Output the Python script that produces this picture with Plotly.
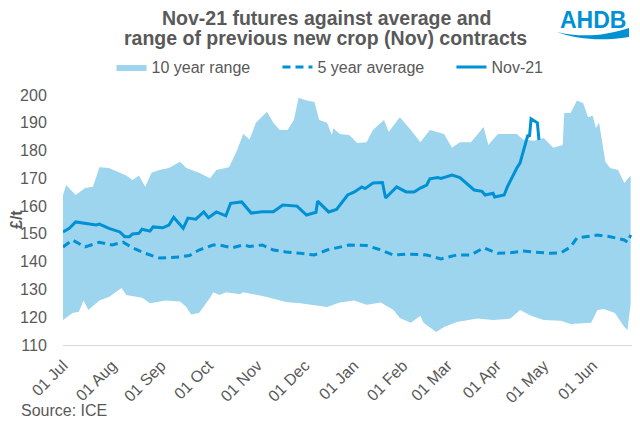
import plotly.graph_objects as go

# ---- data ----
range_upper_dates = [
    "2020-07-01", "2020-07-03", "2020-07-09", "2020-07-15", "2020-07-20", "2020-07-24", "2020-07-30",
    "2020-08-10", "2020-08-14", "2020-08-18", "2020-08-22", "2020-08-26", "2020-08-31",
    "2020-09-06", "2020-09-13", "2020-09-17", "2020-09-25",
    "2020-10-02", "2020-10-06", "2020-10-14", "2020-10-19", "2020-10-23", "2020-10-27", "2020-10-31",
    "2020-11-07", "2020-11-11", "2020-11-15", "2020-11-20", "2020-11-24", "2020-11-27",
    "2020-12-02", "2020-12-07", "2020-12-10", "2020-12-15", "2020-12-18", "2020-12-19", "2020-12-23", "2020-12-29",
    "2021-01-03", "2021-01-09", "2021-01-13", "2021-01-20", "2021-01-23", "2021-01-30",
    "2021-02-06", "2021-02-12", "2021-02-18", "2021-02-27",
    "2021-03-04", "2021-03-09", "2021-03-16", "2021-03-24", "2021-03-27",
    "2021-04-02", "2021-04-10", "2021-04-14", "2021-04-18", "2021-04-25",
    "2021-05-01", "2021-05-07", "2021-05-13", "2021-05-14", "2021-05-18", "2021-05-22", "2021-05-26", "2021-05-29",
    "2021-06-01", "2021-06-03", "2021-06-05", "2021-06-09", "2021-06-12", "2021-06-17", "2021-06-21", "2021-06-25",
]
range_upper = [
    164, 167.6, 164, 166.5, 167, 174, 173.7,
    171, 169.4, 171, 167, 172, 173,
    173.7, 176, 173.7, 172,
    170, 173, 174, 180, 186, 184, 190,
    194, 190, 187.4, 187.4, 191, 199,
    198, 197.5, 191, 190, 185.6, 188, 186, 185.6,
    182.7, 183, 187.4, 191, 186.7, 192,
    187.4, 183, 187.4, 186,
    181, 183, 183, 188.5, 182,
    186, 186, 186, 184, 183.5,
    184.5, 181, 182, 193.5, 193.5, 198, 197, 192,
    192.5, 188, 190, 176, 173.7, 173, 168.3, 171,
]

range_lower_dates = [
    "2020-07-01", "2020-07-07", "2020-07-11", "2020-07-14", "2020-07-17", "2020-07-24", "2020-07-30",
    "2020-08-07", "2020-08-10", "2020-08-20", "2020-08-25",
    "2020-09-04", "2020-09-13", "2020-09-17", "2020-09-20", "2020-09-25",
    "2020-10-02", "2020-10-04", "2020-10-08", "2020-10-12", "2020-10-21", "2020-10-23",
    "2020-11-07", "2020-11-19", "2020-11-28",
    "2020-12-15", "2020-12-23",
    "2021-01-01", "2021-01-09", "2021-01-18", "2021-01-26", "2021-01-30",
    "2021-02-06", "2021-02-12", "2021-02-14", "2021-02-22", "2021-02-27",
    "2021-03-07", "2021-03-20", "2021-03-30",
    "2021-04-10", "2021-04-16", "2021-04-23",
    "2021-05-01", "2021-05-12", "2021-05-18", "2021-05-22", "2021-05-31",
    "2021-06-04", "2021-06-08", "2021-06-15", "2021-06-21", "2021-06-23", "2021-06-25",
]
range_lower = [
    119, 121.5, 122, 126, 122.6, 126, 127.3,
    130.5, 128, 127, 125,
    126, 125.7, 123.7, 121, 121.5,
    127, 129, 128, 129, 128.3, 129,
    127.3, 125.5, 125,
    123.7, 125.3,
    126, 124.5, 125.3, 122.6, 119.7,
    118, 120.5, 118, 114.7, 116.5,
    118.3, 119.5, 119,
    119.5, 122.6, 120.5,
    119, 118.7, 117.6, 117.6, 118,
    122.6, 123, 121.5, 116.5, 115.4, 125,
]

avg5_dates = [
    "2020-07-01", "2020-07-07", "2020-07-15", "2020-07-24",
    "2020-08-01", "2020-08-08", "2020-08-14", "2020-08-22", "2020-08-31",
    "2020-09-13", "2020-09-19", "2020-09-25",
    "2020-10-04", "2020-10-08", "2020-10-16", "2020-10-23", "2020-10-27",
    "2020-11-04", "2020-11-11", "2020-11-19", "2020-11-28",
    "2020-12-07", "2020-12-15", "2020-12-23", "2020-12-29",
    "2021-01-09", "2021-01-18", "2021-01-26",
    "2021-02-03", "2021-02-12", "2021-02-16", "2021-02-25",
    "2021-03-07", "2021-03-16", "2021-03-24",
    "2021-04-02", "2021-04-10", "2021-04-18", "2021-04-27",
    "2021-05-05", "2021-05-12", "2021-05-18", "2021-05-22", "2021-05-29",
    "2021-06-04", "2021-06-12", "2021-06-21", "2021-06-23", "2021-06-25",
]
avg5 = [
    145.3, 147.8, 145.3, 147,
    146, 147, 145, 143, 141.3,
    141.7, 142.2, 144.2,
    146, 146, 145, 146, 145.5,
    146, 144.2, 143.5, 143,
    142.4, 144.2, 145.3, 146,
    145.8, 144.2, 142.4,
    142.7, 142.6, 142.4, 141,
    142.4, 142.4, 145,
    143, 143.2, 143.8, 143.5,
    143, 143.2, 145.3, 148.5, 149,
    149.6, 149, 147.8, 147, 149.6,
]

nov21_dates = [
    "2020-07-01", "2020-07-05", "2020-07-09", "2020-07-15", "2020-07-22", "2020-07-24", "2020-07-30",
    "2020-08-06", "2020-08-09", "2020-08-12", "2020-08-14", "2020-08-18", "2020-08-20", "2020-08-25", "2020-08-27",
    "2020-09-02", "2020-09-06", "2020-09-09", "2020-09-15", "2020-09-18", "2020-09-23", "2020-09-28",
    "2020-10-01", "2020-10-06", "2020-10-08", "2020-10-12", "2020-10-15", "2020-10-22", "2020-10-28",
    "2020-11-04", "2020-11-11", "2020-11-17", "2020-11-26",
    "2020-12-02", "2020-12-08", "2020-12-09", "2020-12-16", "2020-12-21", "2020-12-28",
    "2021-01-01", "2021-01-06", "2021-01-08", "2021-01-13", "2021-01-19", "2021-01-21", "2021-01-28",
    "2021-02-03", "2021-02-08", "2021-02-12", "2021-02-16", "2021-02-18", "2021-02-23", "2021-02-25",
    "2021-03-04", "2021-03-09", "2021-03-12", "2021-03-18", "2021-03-23", "2021-03-25", "2021-03-30", "2021-03-31",
    "2021-04-06", "2021-04-08", "2021-04-14", "2021-04-16", "2021-04-21", "2021-04-22", "2021-04-23",
    "2021-04-27", "2021-04-28",
]
nov21 = [
    150.7, 152, 154.3, 153.9, 153.2, 153.5, 152,
    150.7, 149, 149, 150, 150.2, 151.7, 151, 152.5,
    152.2, 153.2, 156, 152, 155.7, 155.3, 157.9,
    155.8, 157.9, 157.5, 156.5, 161, 161.5, 157.5,
    158, 158, 160.4, 160,
    156.8, 157.8, 161.8, 157.9, 158.8, 164,
    165, 166.9, 166.3, 168.3, 168.5, 162.9, 166.9,
    165.1, 165.1, 166.5, 167.6, 169.8, 170.3, 170,
    171.2, 170.3, 168.9, 165.8, 165.3, 164, 164.6, 163.3,
    164, 166.9, 173.7, 175.5, 185.6, 185, 191.4,
    190, 183.8,
]

y_ticks = [110, 120, 130, 140, 150, 160, 170, 180, 190, 200]
series_names = ["10 year range", "5 year average", "Nov-21"]
title_lines = ["Nov-21 futures against average and",
               "range of previous new crop (Nov) contracts"]

BLUE = "#0091D5"
FILL = "#9DD4EE"
GREY = "#595959"
FONT = "Liberation Sans, Arial, sans-serif"

# The page body has an 8px default margin; lay out in page pixels and shift.
OFF = 8
W, H = 640, 427
L, R, T, B = 63 - OFF, 637 - OFF, 95 - OFF, 345 - OFF


def px(x):  # page x pixel -> paper x
    return (x - OFF - L) / (R - L)


def py(y):  # page y pixel -> paper y
    return (B - (y - OFF)) / (B - T)


def cy(y):  # page y pixel -> container y
    return 1 - (y - OFF) / H


def cx(x):  # page x pixel -> container x
    return (x - OFF) / W


GAP = "\u00a0" * 5

fig = go.Figure()
fig.add_trace(go.Scatter(
    x=range_upper_dates + range_lower_dates[::-1],
    y=range_upper + range_lower[::-1],
    fill="toself", fillcolor=FILL, mode="lines", line=dict(width=0, color=FILL),
    name=series_names[0] + GAP, hoverinfo="skip",
))
fig.add_trace(go.Scatter(
    x=avg5_dates, y=avg5, mode="lines",
    line=dict(color=BLUE, width=3, dash="8px,5px"), name=series_names[1] + GAP,
))
fig.add_trace(go.Scatter(
    x=nov21_dates, y=nov21, mode="lines",
    line=dict(color=BLUE, width=3), name=series_names[2],
))

wave = (f"M {px(557)} {py(32)} C {px(578)} {py(37)} {px(602)} {py(37)} {px(629)} {py(28)} "
        f"L {px(629)} {py(37)} C {px(604)} {py(41)} {px(578)} {py(40)} {px(557)} {py(32)} Z")

title_font = dict(size=19.5, color=GREY, family=FONT)

fig.update_layout(
    width=W, height=H,
    margin=dict(l=L, r=W - R, t=T, b=H - B, autoexpand=False),
    paper_bgcolor="white", plot_bgcolor="white",
    font=dict(family=FONT, size=16, color=GREY),
    legend=dict(
        orientation="h", x=cx(330), xanchor="center", xref="container",
        y=cy(67), yref="container", yanchor="middle",
        itemwidth=30, font=dict(size=16, color=GREY, family=FONT),
        traceorder="normal",
    ),
    xaxis=dict(
        type="date", range=["2020-07-01", "2021-06-29"], automargin=False,
        tickformat="%d %b", dtick="M1", tick0="2020-07-01", tickangle=-45,
        showgrid=False, zeroline=False, showline=True, linecolor="#D9D9D9", linewidth=1,
        ticks="outside", ticklen=4, tickcolor="rgba(0,0,0,0)",
        tickfont=dict(size=16, color=GREY, family=FONT),
    ),
    yaxis=dict(
        range=[110, 200], tickvals=y_ticks, showgrid=False, zeroline=False, automargin=False,
        ticks="outside", ticklen=12, tickcolor="rgba(0,0,0,0)",
        tickfont=dict(size=16, color=GREY, family=FONT),
    ),
    annotations=[
        dict(text="<b>" + title_lines[0] + "</b>", xref="paper", yref="paper",
             x=px(326), y=py(18), xanchor="center", yanchor="middle",
             showarrow=False, font=title_font),
        dict(text="<b>" + title_lines[1] + "</b>", xref="paper", yref="paper",
             x=px(325), y=py(38), xanchor="center", yanchor="middle",
             showarrow=False, font=title_font),
        dict(text="<b>£/t</b>", xref="paper", yref="paper", x=px(16), y=py(220),
             xanchor="center", yanchor="middle",
             textangle=-90, showarrow=False, font=dict(size=16, color=GREY, family=FONT)),
        dict(text="Source: ICE", xref="paper", yref="paper", x=px(19), y=py(410),
             xanchor="left", yanchor="middle", showarrow=False,
             font=dict(size=16, color=GREY, family=FONT)),
        dict(text="<b>AHDB</b>", xref="paper", yref="paper", x=px(593), y=py(20),
             xanchor="center", yanchor="middle", showarrow=False,
             font=dict(size=23, color=BLUE, family=FONT)),
    ],
    shapes=[dict(type="path", xref="paper", yref="paper", path=wave,
                 fillcolor=BLUE, line=dict(width=0), layer="above")],
)

fig.write_html("out.html")
